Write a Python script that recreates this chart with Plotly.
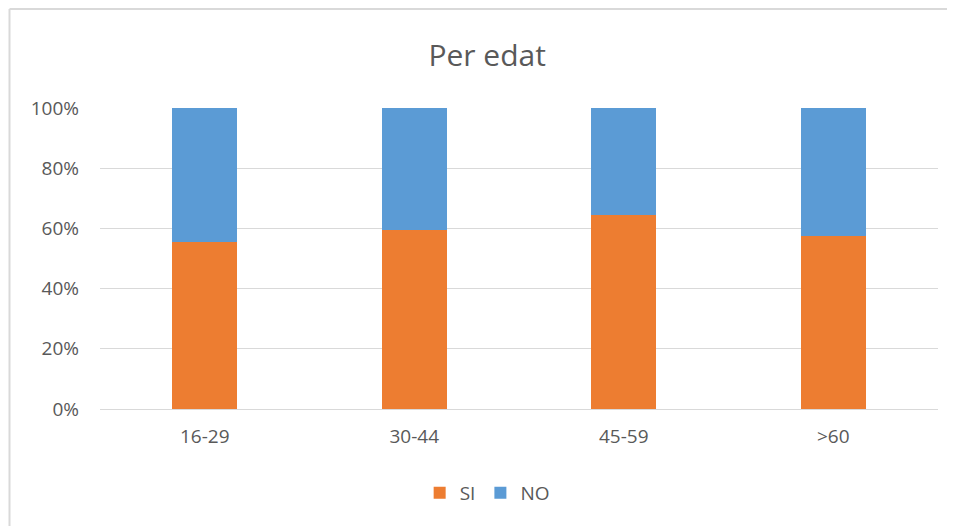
import plotly.graph_objects as go

categories = ['16-29', '30-44', '45-59', '>60']
si_values = [55.6, 59.4, 64.5, 57.4]
no_values = [44.4, 40.6, 35.5, 42.6]

fig = go.Figure()
fig.add_trace(go.Bar(x=categories, y=si_values, name='SI', marker=dict(color='#ed7d31', line=dict(width=0))))
fig.add_trace(go.Bar(x=categories, y=no_values, name='NO', marker=dict(color='#5b9bd5', line=dict(width=0))))

font_color = '#595959'

# page has an 8px body margin, so the figure is sized to the visible window
fig.update_layout(
    barmode='stack',
    bargap=0.69,
    width=947, height=518,
    margin=dict(l=92, r=17, t=100, b=117),
    paper_bgcolor='white',
    plot_bgcolor='white',
    font=dict(family='Open Sans, Liberation Sans, sans-serif', size=19, color=font_color),
    title=dict(text='Per edat', x=0.506, xanchor='center', y=0.909, yanchor='middle',
               font=dict(size=30, color=font_color)),
    showlegend=True,
    legend=dict(orientation='h', x=0.462, xanchor='center', y=-0.279, yanchor='middle',
                font=dict(size=19, color=font_color), traceorder='normal'),
    xaxis=dict(showgrid=False, showline=False, ticks='', ticklabelstandoff=14,
               tickfont=dict(size=19, color=font_color)),
    yaxis=dict(range=[0, 100], dtick=20, ticksuffix='%', showgrid=True, gridcolor='#d9d9d9',
               gridwidth=1, zeroline=True, zerolinecolor='#d9d9d9', zerolinewidth=1,
               showline=False, ticklabelstandoff=20, tickfont=dict(size=19, color=font_color)),
)

# chart-area border: only the left and top edges are inside the window
border = dict(color='#d9d9d9', width=2)
fig.add_shape(type='line', xref='paper', yref='paper', x0=-0.108, y0=-0.6, x1=-0.108, y1=1.329,
              line=border, layer='below')
fig.add_shape(type='line', xref='paper', yref='paper', x0=-0.108, y0=1.329, x1=1.2, y1=1.329,
              line=border, layer='below')

fig.write_html("out.html")
